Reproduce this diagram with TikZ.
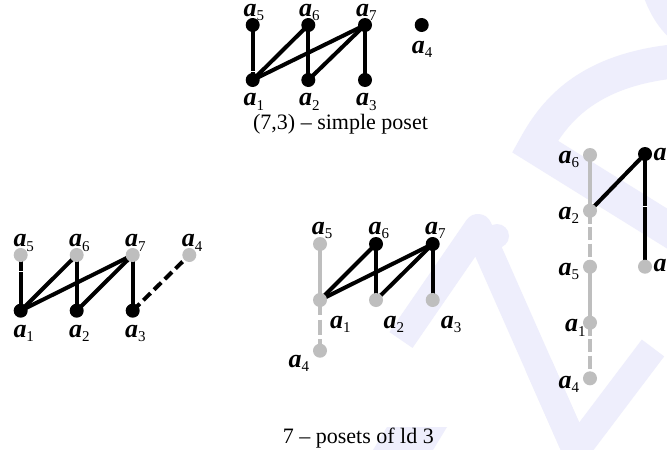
\documentclass[tikz,border=0pt]{standalone}
\usepackage{fontspec}
\setmainfont{Liberation Serif}
\definecolor{grayc}{RGB}{190,190,190}
\definecolor{wmc}{RGB}{238,238,252}
\pgfdeclarelayer{wm}
\pgfdeclarelayer{edges}
\pgfsetlayers{wm,edges,main}
\newcommand{\albl}[1]{{\fontsize{26}{26}\selectfont\bfseries\itshape a}\raisebox{-4.5pt}{\fontsize{15}{15}\selectfont #1}}
\tikzset{
  vb/.style={circle,fill=black,inner sep=0pt,minimum size=14pt},
  vg/.style={circle,fill=grayc,inner sep=0pt,minimum size=14pt},
  eb/.style={line width=4pt,black},
  eg/.style={line width=4pt,grayc},
  lab/.style={inner sep=0pt,anchor=base west},
  captxt/.style={inner sep=0pt,anchor=base,font=\fontsize{22}{22}\selectfont},
  wmline/.style={line width=28pt,wmc},
  gapw/.style={white,line width=0.8pt}
}
\begin{document}
\begin{tikzpicture}[x=1pt,y=-1pt]
\clip[use as bounding box] (0,0) rectangle (667,450);
% ---------- watermark ----------
\begin{pgfonlayer}{wm}
  \fill[white] (0,0) rectangle (667,450);
  \draw[wmline,line join=round] (401,340) -- (478,228) -- (576,450);
  \draw[wmline,line join=miter,miter limit=10] (538.6,365.3) -- (576,450) -- (653,348);
  \fill[wmc] (497,236) circle (12);
  \draw[wmc,line width=34pt,line join=miter,miter limit=10] (700,249) -- (535,146.5) .. controls (555,110) and (590,66) .. (690,60);
  \fill[wmc] (643,-5) .. controls (650,15) and (660,30) .. (672,40) -- (672,-5) -- cycle;
  \fill[wmc] (387,427) -- (447,427) -- (430,455) -- (370,455) -- cycle;
\end{pgfonlayer}
% ---------- top: (7,3) simple poset ----------
\node[vb] (T5) at (252.7,25) {};
\node[vb] (T6) at (308.3,25) {};
\node[vb] (T7) at (365,25) {};
\node[vb] (T4) at (421.7,25) {};
\node[vb] (T1) at (252.7,80) {};
\node[vb] (T2) at (308.3,80) {};
\node[vb] (T3) at (365,80) {};
\node[lab] (lT5) at (243.3,16) {\albl{5}};
\node[lab] (lT6) at (299,16) {\albl{6}};
\node[lab] (lT7) at (356,16) {\albl{7}};
\node[lab] (lT4) at (411.7,53.3) {\albl{4}};
\node[lab] (lT1) at (243.3,105.5) {\albl{1}};
\node[lab] (lT2) at (299,105.5) {\albl{2}};
\node[lab] (lT3) at (356,105.5) {\albl{3}};
\node[captxt] (c1) at (340.5,129) {(7,3) – simple poset};
% ---------- bottom left ----------
\node[vg] (L5) at (20.7,255) {};
\node[vg] (L6) at (76.7,255) {};
\node[vg] (L7) at (132.7,255) {};
\node[vg] (L4) at (189.3,255) {};
\node[vb] (L1) at (20.7,310.7) {};
\node[vb] (L2) at (76.7,310.7) {};
\node[vb] (L3) at (132.7,310.7) {};
\node[lab] (lL5) at (13.3,246.7) {\albl{5}};
\node[lab] (lL6) at (69,246.7) {\albl{6}};
\node[lab] (lL7) at (125,246.7) {\albl{7}};
\node[lab] (lL4) at (181.7,246.7) {\albl{4}};
\node[lab] (lL1) at (13.3,337.3) {\albl{1}};
\node[lab] (lL2) at (69,337.3) {\albl{2}};
\node[lab] (lL3) at (125,337.3) {\albl{3}};
% ---------- bottom middle ----------
\node[vg] (M5) at (320,244) {};
\node[vb] (M6) at (376,244) {};
\node[vb] (M7) at (432.7,244) {};
\node[vg] (M1) at (320,300) {};
\node[vg] (M2) at (376,300) {};
\node[vg] (M3) at (432.7,300) {};
\node[vg] (M4) at (320,350.7) {};
\node[lab] (lM5) at (311.7,234) {\albl{5}};
\node[lab] (lM6) at (368.3,234) {\albl{6}};
\node[lab] (lM7) at (425,234) {\albl{7}};
\node[lab] (lM1) at (330,328.3) {\albl{1}};
\node[lab] (lM2) at (383.3,328.3) {\albl{2}};
\node[lab] (lM3) at (440.7,328.3) {\albl{3}};
\node[lab] (lM4) at (288.3,367.3) {\albl{4}};
% ---------- right ----------
\node[vg] (R6) at (590,155) {};
\node[vg] (R2) at (590,210.7) {};
\node[vg] (R5) at (590,266.7) {};
\node[vg] (R1) at (590,322.7) {};
\node[vg] (R4) at (590,378.3) {};
\node[vb] (R7) at (645,154) {};
\node[vg] (R3) at (645,266.7) {};
\node[lab] (lR6) at (558.3,163.3) {\albl{6}};
\node[lab] (lR2) at (558.3,219.3) {\albl{2}};
\node[lab] (lR5) at (558.3,275.3) {\albl{5}};
\node[lab] (lR1) at (565,331.7) {\albl{1}};
\node[lab] (lR4) at (558.3,388.3) {\albl{4}};
\node[lab] (lR7) at (653.3,160) {\albl{7}};
\node[lab] (lR3) at (653.3,271.7) {\albl{3}};
\node[captxt] (c2) at (358.3,443) {7 – posets of ld 3};
% ---------- edges ----------
\begin{pgfonlayer}{edges}
  \draw[eb] (T5.center) -- (T1.center);
  \draw[eb] (T6.center) -- (T1.center);
  \draw[eb] (T7.center) -- (T1.center);
  \draw[eb] (T6.center) -- (T2.center);
  \draw[eb] (T7.center) -- (T2.center);
  \draw[eb] (T7.center) -- (T3.center);
  \draw[gapw] (250.2,71) -- (255.2,71);
  \draw[eb] (L5.center) -- (L1.center);
  \draw[eb] (L6.center) -- (L1.center);
  \draw[eb] (L7.center) -- (L1.center);
  \draw[eb] (L6.center) -- (L2.center);
  \draw[eb] (L7.center) -- (L2.center);
  \draw[eb] (L7.center) -- (L3.center);
  \draw[eb,dash pattern=on 10pt off 5pt] (L3.center) -- (L4.center);
  \draw[gapw] (18.2,271.7) -- (23.2,271.7);
  \draw[eg] (M5.center) -- (M1.center);
  \draw[eg,dash pattern=on 15pt off 4.5pt] (M1.center) -- (M4.center);
  \draw[eb] (M6.center) -- (M1.center);
  \draw[eb] (M7.center) -- (M1.center);
  \draw[eb] (M6.center) -- (M2.center);
  \draw[eb] (M7.center) -- (M2.center);
  \draw[eb] (M7.center) -- (M3.center);
  \draw[eg] (R6.center) -- (R2.center);
  \draw[eg,dash pattern=on 13pt off 3.5pt] (R2.center) -- (R5.center);
  \draw[eg] (R5.center) -- (R1.center);
  \draw[eg,dash pattern=on 13pt off 3.5pt] (R1.center) -- (R4.center);
  \draw[eb] (R7.center) -- (R2.center);
  \draw[eb] (R7.center) -- (R3.center);
  \draw[gapw] (642.5,206) -- (647.5,206);
\end{pgfonlayer}
\end{tikzpicture}
\end{document}
